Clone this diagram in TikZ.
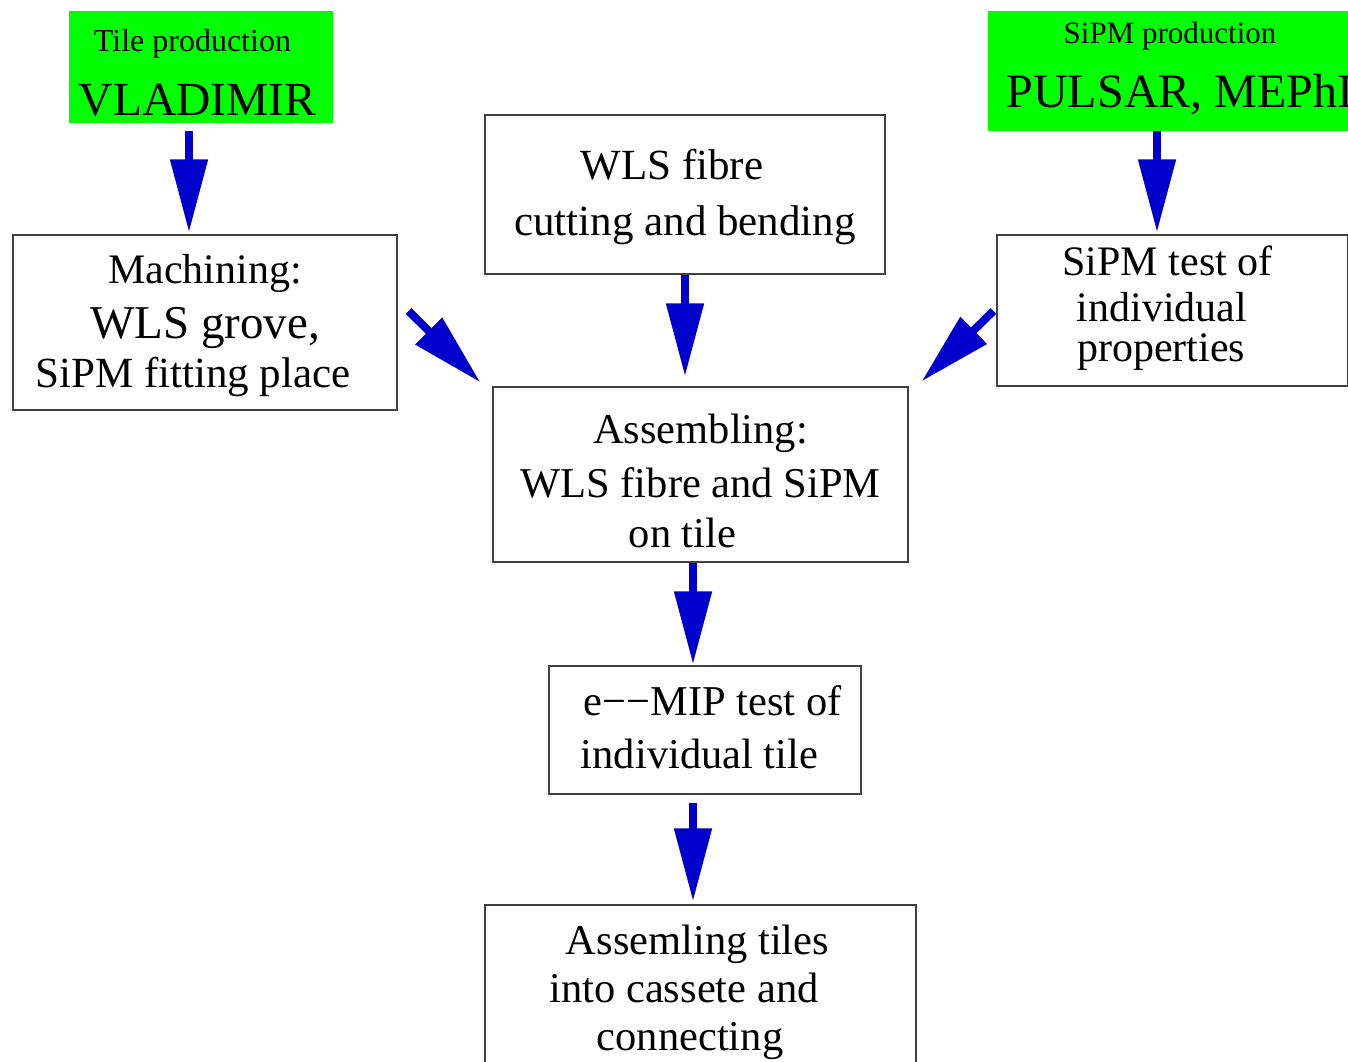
\documentclass[tikz,border=0pt]{standalone}
\usepackage{fontspec}
\setmainfont{Liberation Serif}
\usetikzlibrary{arrows.meta}
\definecolor{srcgreen}{RGB}{0,255,0}
\definecolor{flowblue}{RGB}{0,0,204}
\tikzstyle{source} = [rectangle, fill=srcgreen, align=center, inner sep=0pt, text depth=0pt]
\tikzstyle{stage} = [rectangle, draw=black!75, line width=1.2pt, fill=white, align=center, inner sep=0pt, text depth=0pt]
\tikzstyle{flow} = [line width=8pt, draw=flowblue, -{Triangle[length=73pt,width=36pt]}]

\begin{document}
\begin{tikzpicture}[x=1pt,y=-1pt]
\useasboundingbox (0,0) rectangle (1348,1061);
\fill[white] (0,0) rectangle (1348,1061);

% Nodes
\node (tile) at (201,67) [source, minimum width=264pt, minimum height=112pt, text height=96pt, font=\fontsize{32}{64}\selectfont] {Tile production\kern17pt\\{\fontsize{47.5}{64}\selectfont VLADIMIR}\kern7pt};
\node (pulsar) at (1180,71) [source, minimum width=384pt, minimum height=120pt, text height=72pt, font=\fontsize{31}{64}\selectfont] {SiPM production\kern20pt\\{\fontsize{48}{64}\selectfont PULSAR, MEPhI}};

\node (mach) at (205,322.5) [stage, minimum width=384pt, minimum height=175pt, text height=129pt, font=\fontsize{42}{49}\selectfont] {Machining:\\[6pt]{\fontsize{47}{49}\selectfont WLS grove,}\\{\fontsize{43}{49}\selectfont SiPM fitting place}\kern24pt};
\node (wls) at (685,194.5) [stage, minimum width=400pt, minimum height=159pt, text height=81pt, font=\fontsize{43}{56}\selectfont] {WLS fibre\kern26pt\\cutting and bending};
\node (sipm) at (1172.5,310.5) [stage, minimum width=351pt, minimum height=151pt, text height=102pt, font=\fontsize{42}{40}\selectfont] {SiPM test of\kern10pt\\[6pt]individual\kern21pt\\properties\kern23pt};

\node (asm) at (700.5,474.5) [stage, minimum width=415pt, minimum height=175pt, text height=145pt, font=\fontsize{42.5}{50}\selectfont] {Assembling:\\[4pt]WLS fibre and SiPM\\on tile\kern36pt};
\node (emip) at (705,730) [stage, minimum width=312pt, minimum height=128pt, text height=76pt, font=\fontsize{42.5}{53}\selectfont] {\kern15pt e−−MIP test of\\individual tile\kern11pt};
\node (cass) at (700.5,990) [stage, minimum width=431pt, minimum height=170pt, text height=120pt, font=\fontsize{42.5}{48}\selectfont] {Assemling tiles\kern6pt\\into cassete and\kern33pt\\connecting\kern21pt};

% Arrows
\draw [flow] ([xshift=-12pt,yshift=-8pt]tile.south) -- ([xshift=-16pt,yshift=2pt]mach.north);
\draw [flow] (wls.south) -- ([yshift=10pt]wls.south |- asm.north);
\draw [flow] ([xshift=-15.5pt]sipm.north |- pulsar.south) -- ([xshift=-15.5pt,yshift=2pt]sipm.north);
\draw [flow] ([xshift=11pt,yshift=11.5pt]mach.east) -- ([xshift=-12pt,yshift=4pt]asm.north west);
\draw [flow] ([xshift=-3pt,yshift=-0.5pt]sipm.west) -- ([xshift=13pt,yshift=5pt]asm.north east);
\draw [flow] ([xshift=-7.5pt]asm.south) -- ([xshift=-12pt,yshift=1pt]emip.north);
\draw [flow] ([xshift=-12pt,yshift=-8pt]emip.south) -- ([xshift=-7.5pt,yshift=3pt]cass.north);

\end{tikzpicture}
\end{document}
